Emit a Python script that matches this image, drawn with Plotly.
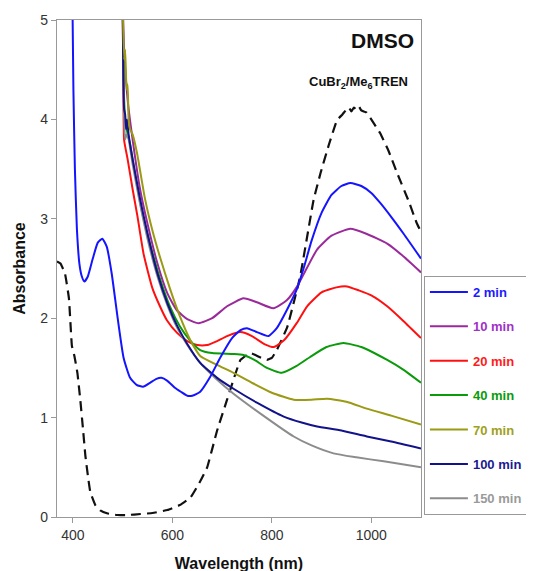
import plotly.graph_objects as go

# ---- data ----
ref_x = [368, 375, 384, 392, 398, 403, 409, 415, 420, 425, 430, 435, 445, 455, 470, 489, 510, 536, 560, 590, 615, 637, 655, 670, 690, 710, 737, 757, 775, 790, 800, 810, 831, 857, 884, 898, 915, 931, 942, 950, 955, 960, 965, 970, 975, 980, 990, 1000, 1018, 1035, 1052, 1075, 1092, 1100]
ref_y = [2.57, 2.55, 2.45, 2.2, 1.72, 1.62, 1.45, 1.17, 0.9, 0.62, 0.42, 0.25, 0.12, 0.066, 0.035, 0.02, 0.02, 0.03, 0.04, 0.07, 0.12, 0.2, 0.35, 0.5, 0.87, 1.18, 1.58, 1.65, 1.61, 1.58, 1.6, 1.68, 1.91, 2.42, 3.19, 3.46, 3.75, 3.99, 4.05, 4.1, 4.12, 4.08, 4.12, 4.1, 4.13, 4.09, 4.07, 4.0, 3.86, 3.68, 3.46, 3.18, 2.95, 2.87]

t2_x = [399, 401, 404, 408, 413, 418, 423, 430, 440, 450, 459, 468, 478, 490, 502, 515, 528, 541, 555, 568, 578, 590, 605, 617, 630, 640, 656, 675, 697, 720, 737, 750, 770, 793, 810, 830, 851, 865, 880, 900, 920, 940, 958, 980, 1000, 1018, 1040, 1065, 1100]
t2_y = [5.2, 4.3, 3.5, 2.9, 2.55, 2.42, 2.37, 2.42, 2.6, 2.76, 2.8, 2.72, 2.45, 2.0, 1.6, 1.4, 1.33, 1.31, 1.35, 1.39, 1.4, 1.37, 1.3, 1.26, 1.22, 1.22, 1.26, 1.4, 1.61, 1.8, 1.88, 1.9, 1.86, 1.82, 1.9, 2.08, 2.3, 2.52, 2.78, 3.06, 3.24, 3.33, 3.36, 3.33, 3.26, 3.16, 3.02, 2.85, 2.6]

t10_x = [500, 503, 510, 520, 535, 550, 570, 590, 609, 630, 653, 680, 710, 743, 770, 803, 830, 851, 870, 891, 920, 958, 990, 1032, 1065, 1100]
t10_y = [5.2, 4.7, 4.2, 3.8, 3.3, 2.95, 2.55, 2.25, 2.08, 1.99, 1.95, 2.0, 2.12, 2.2, 2.16, 2.1, 2.18, 2.32, 2.5, 2.69, 2.83, 2.9, 2.85, 2.75, 2.62, 2.46]

t20_x = [500, 502, 503, 510, 520, 530, 542, 560, 575, 589, 610, 630, 650, 670, 690, 710, 737, 760, 785, 804, 825, 850, 871, 900, 930, 951, 975, 1000, 1032, 1065, 1100]
t20_y = [5.2, 4.0, 3.79, 3.6, 3.3, 3.02, 2.65, 2.3, 2.12, 1.98, 1.85, 1.77, 1.73, 1.73, 1.77, 1.82, 1.86, 1.82, 1.74, 1.71, 1.78, 1.95, 2.12, 2.26, 2.31, 2.32, 2.28, 2.23, 2.12, 1.97, 1.8]

t40_x = [500, 503, 506, 515, 525, 540, 555, 575, 595, 615, 635, 656, 680, 723, 743, 765, 790, 820, 850, 877, 910, 944, 980, 1032, 1065, 1100]
t40_y = [5.2, 4.2, 3.95, 3.75, 3.45, 3.05, 2.75, 2.4, 2.12, 1.92, 1.78, 1.68, 1.65, 1.64, 1.63, 1.58, 1.5, 1.45, 1.52, 1.61, 1.71, 1.75, 1.71, 1.58, 1.48, 1.35]

t70_x = [500, 503, 505, 508, 510, 512, 515, 520, 529, 545, 560, 576, 595, 615, 636, 656, 690, 723, 760, 800, 844, 880, 911, 950, 991, 1040, 1100]
t70_y = [5.2, 4.6, 4.7, 4.3, 4.35, 4.0, 3.9, 3.85, 3.66, 3.2, 2.88, 2.6, 2.3, 2.02, 1.78, 1.62, 1.53, 1.45, 1.35, 1.25, 1.18, 1.18, 1.19, 1.16, 1.09, 1.02, 0.93]

t100_x = [500, 503, 505, 507, 509, 512, 520, 535, 550, 570, 590, 610, 630, 656, 690, 723, 770, 824, 860, 891, 940, 991, 1040, 1100]
t100_y = [5.2, 4.1, 4.05, 3.9, 4.0, 3.85, 3.6, 3.2, 2.85, 2.45, 2.15, 1.92, 1.74, 1.55, 1.4, 1.29, 1.15, 1.01, 0.95, 0.91, 0.87, 0.81, 0.76, 0.69]

t150_x = [500, 503, 505, 508, 512, 520, 535, 550, 570, 590, 610, 630, 656, 690, 723, 780, 844, 880, 924, 970, 1025, 1100]
t150_y = [5.2, 4.0, 3.8, 3.85, 3.8, 3.55, 3.15, 2.8, 2.42, 2.13, 1.9, 1.73, 1.55, 1.38, 1.24, 1.03, 0.81, 0.72, 0.64, 0.6, 0.56, 0.5]

series_names = ["2 min", "10 min", "20 min", "40 min", "70 min", "100 min", "150 min"]
series_x = [t2_x, t10_x, t20_x, t40_x, t70_x, t100_x, t150_x]
series_y = [t2_y, t10_y, t20_y, t40_y, t70_y, t100_y, t150_y]
line_colors = ["#1414ff", "#9a2a9a", "#ff1010", "#0a9a0a", "#9a9a14", "#12128a", "#8c8c8c"]
text_colors = ["#1a1aff", "#a030c8", "#ff1a1a", "#0a9a0a", "#a0a020", "#1a1a90", "#9a9a9a"]
draw_order = [1, 2, 3, 6, 5, 4, 0]

x_ticks = [400, 600, 800, 1000]
y_ticks = [0, 1, 2, 3, 4, 5]

fig = go.Figure()
fig.add_trace(go.Scatter(x=ref_x, y=ref_y, mode="lines", showlegend=False,
                         line=dict(color="#111111", width=2.2, dash="10px,6px",
                                   shape="spline", smoothing=0.3)))
for i in draw_order:
    fig.add_trace(go.Scatter(
        x=series_x[i], y=series_y[i], mode="lines",
        name='<b><span style="color:%s">%s</span></b>%s' % (text_colors[i], series_names[i], "\u00a0" * 8),
        legendrank=i + 1, legendgroup="g%d" % i,
        line=dict(color=line_colors[i], width=2, shape="spline", smoothing=0.5)))

fig.update_layout(
    width=534, height=571,
    margin=dict(l=49, r=121, t=12, b=62, autoexpand=False),
    paper_bgcolor="white", plot_bgcolor="white",
    font=dict(family="Liberation Sans, Arial, sans-serif", size=14, color="#222222"),
    showlegend=True,
    legend=dict(x=1.008, xanchor="left", y=0.485, yanchor="top",
                bordercolor="#999999", borderwidth=1, bgcolor="white",
                font=dict(size=13), tracegroupgap=14.5, itemwidth=38,
                traceorder="grouped"),
    xaxis=dict(range=[368, 1100], tickvals=x_ticks, showgrid=False, zeroline=False,
               showline=True, linecolor="#999999", linewidth=1.2, mirror=True,
               ticks="outside", ticklen=5, tickcolor="#999999",
               tickfont=dict(size=14, color="#333333"),
               title=dict(text="<b>Wavelength (nm)</b>", font=dict(size=16, color="#111111"), standoff=15)),
    yaxis=dict(range=[0, 5], tickvals=y_ticks, showgrid=False, zeroline=False,
               showline=True, linecolor="#999999", linewidth=1.2, mirror=True,
               ticks="outside", ticklen=5, tickcolor="#999999",
               tickfont=dict(size=14, color="#333333"),
               title=dict(text="<b>Absorbance</b>", font=dict(size=16, color="#111111"), standoff=10)),
    annotations=[
        dict(text="<b>DMSO</b>", x=0.985, y=0.985, xref="paper", yref="paper",
             xanchor="right", yanchor="top", showarrow=False,
             font=dict(size=21, color="#111111")),
        dict(text="<b>CuBr<sub>2</sub>/Me<sub>6</sub>TREN</b>", x=0.97, y=0.875,
             xref="paper", yref="paper", xanchor="right", yanchor="middle",
             showarrow=False, font=dict(size=13, color="#111111")),
    ],
)

fig.write_html("out.html")
